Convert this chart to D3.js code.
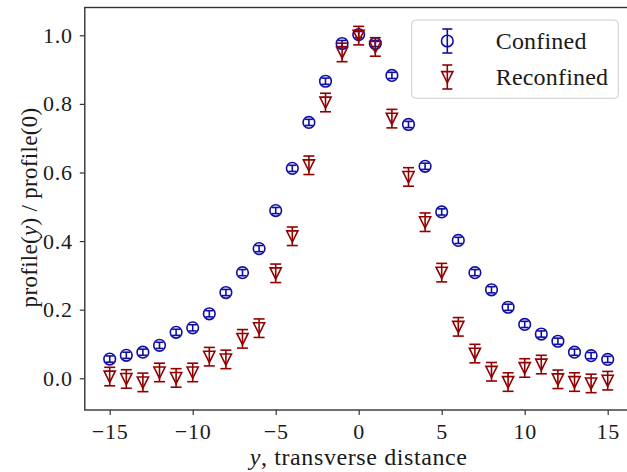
<!DOCTYPE html>
<html>
<head>
<meta charset="utf-8">
<script src="https://cdn.jsdelivr.net/npm/d3@7"></script>
<style>
  body { margin: 0; background: #fff; }
  text { font-family: "Liberation Serif", "DejaVu Serif", serif; fill: #1a1a1a; }
</style>
</head>
<body>
<svg id="chart" width="627" height="472"></svg>
<script>
// transverse positions, one per measurement
var positions = [-15,-14,-13,-12,-11,-10,-9,-8,-7,-6,-5,-4,-3,-2,-1,0,1,2,3,4,5,6,7,8,9,10,11,12,13,14,15];

// normalised profile
var confined = [0.056,0.067,0.076,0.096,0.134,0.147,0.188,0.250,0.308,0.378,0.489,0.612,0.746,0.866,0.976,1.002,0.976,0.883,0.740,0.618,0.485,0.402,0.308,0.258,0.207,0.157,0.129,0.108,0.076,0.066,0.055];
var confinedErr = [0.009,0.009,0.009,0.009,0.009,0.009,0.009,0.009,0.009,0.009,0.009,0.009,0.009,0.009,0.009,0.009,0.009,0.009,0.009,0.009,0.009,0.009,0.009,0.009,0.009,0.009,0.009,0.009,0.009,0.009,0.009];

var reconfined = [0.005,-0.002,-0.012,0.017,0.001,0.017,0.063,0.055,0.115,0.146,0.306,0.414,0.621,0.804,0.950,0.999,0.966,0.757,0.587,0.455,0.308,0.150,0.072,0.019,-0.011,0.030,0.040,-0.003,-0.011,-0.015,-0.007];
var reconfinedErr = [0.027,0.027,0.027,0.027,0.027,0.027,0.027,0.027,0.027,0.027,0.027,0.027,0.027,0.027,0.027,0.027,0.027,0.027,0.027,0.027,0.027,0.027,0.027,0.027,0.027,0.027,0.027,0.027,0.027,0.027,0.027];

var xTicks = [-15,-10,-5,0,5,10,15];
var yTicks = [0.0,0.2,0.4,0.6,0.8,1.0];

var blue = "#0e0ea6";
var red = "#920000";

var margin = {top: 7.5, left: 84.8, bottom: 62};
var width = 632.6 - margin.left;
var height = 472 - margin.top - margin.bottom;

var svg = d3.select("#chart");
var g = svg.append("g").attr("transform", "translate(" + margin.left + "," + margin.top + ")");

var x = d3.scaleLinear().domain([-16.5, 16.5]).range([0, width]);
var y = d3.scaleLinear().domain([-0.0925, 1.081]).range([height, 0]);

// axes
var fmtMinus = function(d) { return (d < 0 ? "\u2212" : "") + Math.abs(d); };

var xAxis = g.append("g")
    .attr("transform", "translate(0," + height + ")")
    .call(d3.axisBottom(x).tickValues(xTicks).tickFormat(fmtMinus).tickSizeOuter(0).tickSize(5).tickPadding(6));
var yAxis = g.append("g")
    .call(d3.axisLeft(y).tickValues(yTicks).tickFormat(d3.format(".1f")).tickSizeOuter(0).tickSize(5).tickPadding(7));

[xAxis, yAxis].forEach(function(a) {
    a.select(".domain").remove();
    a.selectAll("line").attr("stroke", "#333").attr("stroke-width", 1.2);
    a.selectAll("text").style("font-size", "22px").style("letter-spacing", "0.8px").attr("fill", "#1a1a1a");
});
xAxis.selectAll("text").attr("dy", "0.82em");

// frame
g.append("rect")
    .attr("x", 0).attr("y", 0)
    .attr("width", width).attr("height", height)
    .attr("fill", "none").attr("stroke", "#333").attr("stroke-width", 1.4);

// axis labels
svg.append("text")
    .attr("x", margin.left + x(0)).attr("y", 465)
    .attr("text-anchor", "middle").style("font-size", "24px").style("letter-spacing", "0.6px")
    .html('<tspan font-style="italic">y</tspan>, transverse distance');

svg.append("text")
    .attr("transform", "translate(37," + (margin.top + 200) + ") rotate(-90)")
    .attr("text-anchor", "middle").style("font-size", "23px").style("letter-spacing", "0.3px")
    .html('profile(<tspan font-style="italic">y</tspan>) / profile(0)');

// error bar series
function drawSeries(vals, errs, color, cap, marker) {
    var s = g.append("g");
    var pts = s.selectAll("g.pt").data(positions).join("g")
        .attr("class", "pt")
        .attr("transform", function(d, i) { return "translate(" + x(d) + "," + y(vals[i]) + ")"; });
    pts.append("line")
        .attr("x1", 0).attr("x2", 0)
        .attr("y1", function(d, i) { return y(vals[i] - errs[i]) - y(vals[i]); })
        .attr("y2", function(d, i) { return y(vals[i] + errs[i]) - y(vals[i]); })
        .attr("stroke", color).attr("stroke-width", 1.6);
    [-1, 1].forEach(function(sgn) {
        pts.append("line")
            .attr("x1", -cap).attr("x2", cap)
            .attr("y1", function(d, i) { return y(vals[i] + sgn * errs[i]) - y(vals[i]); })
            .attr("y2", function(d, i) { return y(vals[i] + sgn * errs[i]) - y(vals[i]); })
            .attr("stroke", color).attr("stroke-width", 1.6);
    });
    marker(pts, color);
}

function circleMarker(sel, color) {
    sel.append("circle").attr("r", 5.8)
        .attr("fill", "none").attr("stroke", color).attr("stroke-width", 1.6);
}
function triMarker(sel, color) {
    sel.append("path").attr("d", "M-5.6,-5.4L5.6,-5.4L0,5.8Z")
        .attr("fill", "none").attr("stroke", color).attr("stroke-width", 1.6)
        .attr("stroke-linejoin", "miter");
}

drawSeries(confined, confinedErr, blue, 4, circleMarker);
drawSeries(reconfined, reconfinedErr, red, 5.5, triMarker);

// legend
var lg = svg.append("g");
lg.append("rect")
    .attr("x", 411.7).attr("y", 20).attr("width", 206.6).attr("height", 78.3)
    .attr("rx", 4).attr("fill", "#fff").attr("fill-opacity", 0.8)
    .attr("stroke", "#cccccc").attr("stroke-width", 1);

var legendItems = [
    {label: "Confined", color: blue, marker: circleMarker, cy: 41},
    {label: "Reconfined", color: red, marker: triMarker, cy: 77}
];
legendItems.forEach(function(it) {
    var m = lg.append("g").attr("transform", "translate(447.3," + it.cy + ")");
    m.append("line").attr("x1", 0).attr("x2", 0).attr("y1", -12).attr("y2", 12)
        .attr("stroke", it.color).attr("stroke-width", 1.6);
    m.append("line").attr("x1", -5).attr("x2", 5).attr("y1", -12).attr("y2", -12)
        .attr("stroke", it.color).attr("stroke-width", 1.6);
    m.append("line").attr("x1", -5).attr("x2", 5).attr("y1", 12).attr("y2", 12)
        .attr("stroke", it.color).attr("stroke-width", 1.6);
    it.marker(m, it.color);
    lg.append("text").attr("x", 495.7).attr("y", it.cy + 8)
        .style("font-size", "24px").style("letter-spacing", "0.2px").text(it.label);
});
</script>
</body>
</html>
